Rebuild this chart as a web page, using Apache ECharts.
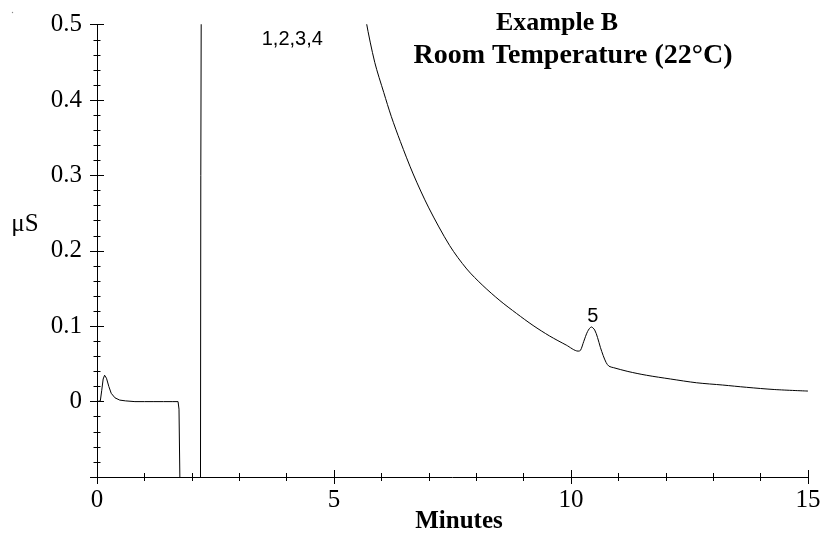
<!DOCTYPE html>
<html>
<head>
<meta charset="utf-8">
<script src="https://cdn.jsdelivr.net/npm/echarts@6/dist/echarts.min.js"></script>
<style>
html,body{margin:0;padding:0;background:#fff;}
#chart{width:824px;height:534px;}
</style>
</head>
<body>
<div id="chart"></div>
<script>
// ---- data (minutes, µS) ----
var earlyTime   = [0.00, 0.07, 0.10, 0.13, 0.16, 0.20, 0.25, 0.30, 0.38, 0.48, 0.60, 0.80, 1.00, 1.20, 1.40, 1.60, 1.71, 1.73, 1.75, 1.76, 2.18, 2.19, 2.21];
var earlySignal = [0.000, 0.001, 0.015, 0.030, 0.035, 0.031, 0.020, 0.011, 0.005, 0.002, 0.001, 0.000, 0.000, 0.000, 0.000, 0.000, 0.000, -0.010, -0.110, -0.300, -0.300, 0.300, 0.800];

var lateTime   = [5.55, 5.68, 5.86, 6.05, 6.21, 6.40, 6.67, 7.00, 7.44, 7.80, 8.14, 8.50, 8.85, 9.20, 9.55, 9.90, 10.15, 10.20, 10.27, 10.35, 10.43, 10.50, 10.56, 10.62, 10.68, 10.74, 10.80, 10.90, 11.20, 11.59, 12.10, 12.65, 13.20, 13.70, 14.30, 15.00];
var lateSignal = [0.560, 0.504, 0.450, 0.410, 0.378, 0.345, 0.302, 0.257, 0.207, 0.176, 0.154, 0.134, 0.117, 0.101, 0.087, 0.075, 0.067, 0.068, 0.080, 0.093, 0.099, 0.095, 0.085, 0.072, 0.061, 0.052, 0.047, 0.045, 0.040, 0.035, 0.030, 0.025, 0.022, 0.019, 0.016, 0.014];

var peakLabelText = ['1,2,3,4', '5'];
var peakLabelTime = [4.12, 10.46];
var peakLabelY    = [0.481, 0.113];

var xTicks = {min: 0, max: 15, interval: 5};
var yTicks = {min: -0.1, max: 0.5, interval: 0.1};

var titleLines = ['Example B', 'Room Temperature (22\u00B0C)'];
var xName = 'Minutes';
var yName = '\u03BCS';

function pairs(xs, ys){ return xs.map(function(x,i){ return [x, ys[i]]; }); }

var serif = '"Liberation Serif","Times New Roman",serif';
var sans = '"Liberation Sans",Arial,sans-serif';

function xAxisDef(inside){
  return {
    type: 'value', position: 'bottom', min: xTicks.min, max: xTicks.max, interval: xTicks.interval,
    axisLine: {show: !inside, onZero: false, lineStyle: {color: '#000', width: 1}},
    axisTick: {show: true, inside: inside, length: 7, lineStyle: {color: '#000', width: 1}},
    minorTick: {show: true, splitNumber: 5, length: 4, lineStyle: {color: '#000', width: 1}},
    axisLabel: {show: !inside, margin: 11, color: '#000', fontFamily: serif, fontSize: 25},
    splitLine: {show: false}
  };
}
function yAxisDef(inside){
  return {
    type: 'value', position: 'left', min: yTicks.min, max: yTicks.max, interval: yTicks.interval,
    axisLine: {show: !inside, onZero: false, lineStyle: {color: '#000', width: 1}},
    axisTick: {show: true, inside: inside, length: 7, lineStyle: {color: '#000', width: 1}},
    minorTick: {show: true, splitNumber: 5, length: 3.5, lineStyle: {color: '#000', width: 1}},
    axisLabel: {show: !inside, margin: 15, color: '#000', fontFamily: serif, fontSize: 25,
      formatter: function(v){ return v < -0.001 ? '' : String(+v.toFixed(1)); }},
    splitLine: {show: false}
  };
}

var chart = echarts.init(document.getElementById('chart'), null, {renderer: 'canvas'});
chart.setOption({
  animation: false,
  backgroundColor: '#fff',
  grid: {left: 97, right: 16, top: 24.7, bottom: 57, containLabel: false},
  xAxis: [xAxisDef(false), xAxisDef(true)],
  yAxis: [yAxisDef(false), yAxisDef(true)],
  series: [
    {
      type: 'line', xAxisIndex: 0, yAxisIndex: 0, showSymbol: false, symbol: 'none', clip: true,
      lineStyle: {color: '#000', width: 1}, data: pairs(earlyTime, earlySignal),
      markPoint: {
        symbol: 'circle', symbolSize: 0, silent: true,
        label: {show: true, position: 'inside', color: '#000', fontFamily: sans, fontSize: 20,
          formatter: function(p){ return p.name; }},
        data: peakLabelText.map(function(t,i){ return {name: t, coord: [peakLabelTime[i], peakLabelY[i]]}; })
      }
    },
    {
      type: 'line', xAxisIndex: 0, yAxisIndex: 0, showSymbol: false, symbol: 'none', clip: true, smooth: 0.3,
      lineStyle: {color: '#000', width: 1}, data: pairs(lateTime, lateSignal)
    }
  ],
  graphic: [
    {type: 'text', x: 557, y: 23, style: {text: titleLines[0], textAlign: 'center', textVerticalAlign: 'middle', fill: '#000', font: 'bold 26px ' + serif}},
    {type: 'text', x: 573, y: 56, style: {text: titleLines[1], textAlign: 'center', textVerticalAlign: 'middle', fill: '#000', font: 'bold 28px ' + serif}},
    {type: 'text', x: 459, y: 522, style: {text: xName, textAlign: 'center', textVerticalAlign: 'middle', fill: '#000', font: 'bold 25px ' + serif}},
    {type: 'text', x: 25, y: 224, style: {text: yName, textAlign: 'center', textVerticalAlign: 'middle', fill: '#000', font: '25px ' + serif}},
    {type: 'circle', shape: {cx: 12.5, cy: 12.5, r: 0.7}, style: {fill: '#888'}}
  ]
});
</script>
</body>
</html>
